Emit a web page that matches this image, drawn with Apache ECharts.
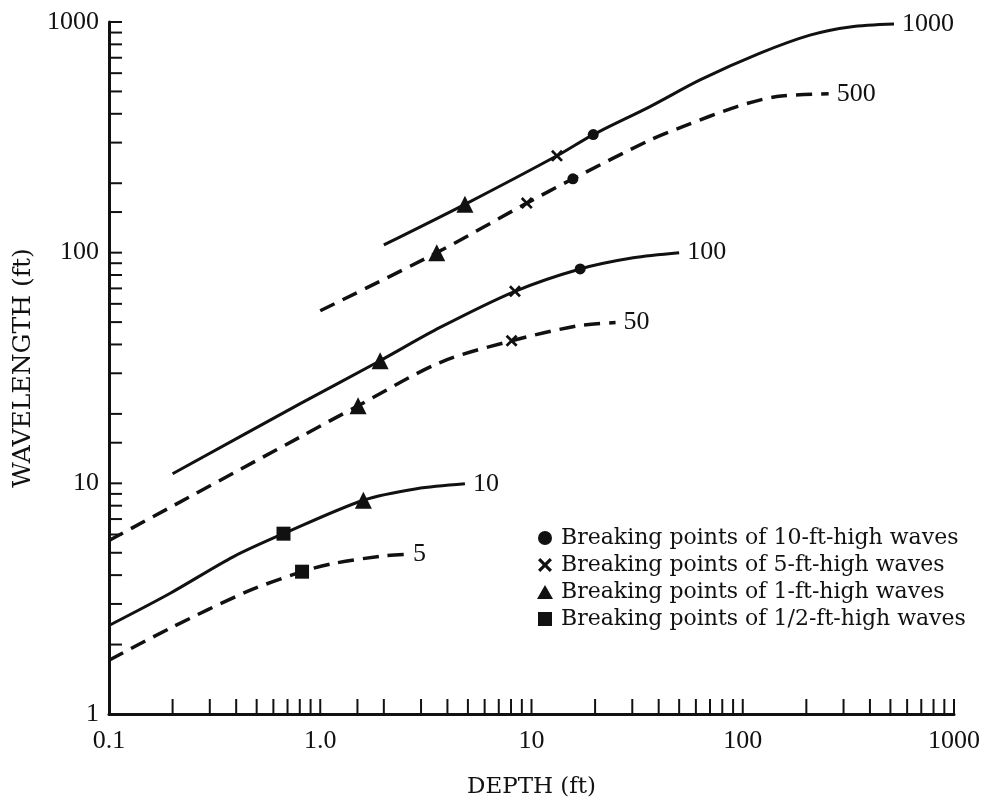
<!DOCTYPE html>
<html>
<head>
<meta charset="utf-8">
<script src="https://cdn.jsdelivr.net/npm/echarts@6/dist/echarts.min.js"></script>
<style>
  html, body { margin: 0; padding: 0; background: #fff; }
  #chart { width: 992px; height: 804px; }
</style>
</head>
<body>
<div id="chart"></div>
<script>
// axis labels and tick positions
const xTickLabels = ['0.1', '1.0', '10', '100', '1000'];
const yTickLabels = ['1', '10', '100', '1000'];
const xTicks = [0.2, 0.3, 0.4, 0.5, 0.6, 0.7, 0.8, 0.9, 1,
  1.5, 2, 3, 4, 5, 6, 7, 8, 9, 10,
  20, 30, 40, 50, 60, 70, 80, 90, 100,
  200, 300, 400, 500, 600, 700, 800, 900, 1000];
const yTicks = [2, 3, 4, 5, 6, 7, 8, 9, 10,
  15, 20, 30, 40, 50, 60, 70, 80, 90, 100,
  150, 200, 300, 400, 500, 600, 700, 800, 900, 1000];

// curves: [depth ft, wavelength ft]
const curve1000 = [[2.0, 108], [4.84, 162], [13.2, 263], [19.6, 325], [36.4, 430], [62.8, 561], [120, 731], [208, 877], [322, 952], [520, 980]];
const curve500 = [[1.0, 56], [3.56, 100], [9.5, 164], [15.7, 209], [36.4, 308], [52, 352], [94, 430], [145, 475], [255, 488]];
const curve100 = [[0.2, 11], [0.8, 22.1], [1.92, 34], [3.69, 47.4], [8.35, 68], [17, 85], [30.3, 95], [50, 100]];
const curve50 = [[0.1, 5.65], [0.8, 15.85], [1.51, 21.7], [3.69, 33.4], [8.05, 41.5], [16.4, 48.1], [25, 49.8]];
const curve10 = [[0.1, 2.42], [0.194, 3.33], [0.387, 4.8], [0.67, 6.05], [1.6, 8.45], [2.86, 9.48], [4.84, 9.96]];
const curve5 = [[0.1, 1.71], [0.194, 2.35], [0.449, 3.39], [0.82, 4.14], [1.15, 4.49], [1.99, 4.85], [2.52, 4.92]];

// breaking points
const breakers10ft = [[19.6, 325], [15.7, 209], [17, 85]];
const breakers5ft = [[13.2, 263], [9.5, 164], [8.35, 68], [8.05, 41.5]];
const breakers1ft = [[4.84, 162], [3.56, 100], [1.92, 34], [1.51, 21.7], [1.6, 8.45]];
const breakersHalfFt = [[0.67, 6.05], [0.82, 4.14]];

const legendNames = [
  'Breaking points of 10-ft-high waves',
  'Breaking points of 5-ft-high waves',
  'Breaking points of 1-ft-high waves',
  'Breaking points of 1/2-ft-high waves'
];

const ink = '#111';
const serif = 'Liberation Serif';
const crossPath = 'path://M1.6,0 L5,3.4 L8.4,0 L10,1.6 L6.6,5 L10,8.4 L8.4,10 L5,6.6 L1.6,10 L0,8.4 L3.4,5 L0,1.6 Z';
const squarePath = 'path://M0,0 L10,0 L10,10 L0,10 Z';

const chart = echarts.init(document.getElementById('chart'));

function curveSeries(name, data, dashed) {
  return {
    name: name,
    type: 'line',
    data: data,
    smooth: 0.3,
    showSymbol: false,
    silent: true,
    lineStyle: { color: ink, width: dashed ? 3.5 : 3, type: dashed ? [16, 9] : 'solid' },
    endLabel: {
      show: true,
      formatter: name,
      color: ink,
      fontFamily: serif,
      fontSize: 26,
      distance: 8
    },
    z: 3
  };
}

function markerSeries(name, data, symbol, size) {
  return {
    name: name,
    type: 'scatter',
    data: data,
    symbol: symbol,
    symbolSize: size,
    itemStyle: { color: ink, opacity: 1 },
    z: 4
  };
}

function tickRenderer(horizontal) {
  return function (params, api) {
    const p = api.coord([api.value(0), api.value(1)]);
    const end = horizontal ? [p[0] + 13, p[1]] : [p[0], p[1] - 15];
    return {
      type: 'line',
      shape: { x1: p[0], y1: p[1], x2: end[0], y2: end[1] },
      style: { stroke: ink, lineWidth: 2 }
    };
  };
}

const option = {
  backgroundColor: '#fff',
  animation: false,
  grid: { left: 109, right: 38, top: 22, bottom: 88 },
  legend: {
    data: [
      { name: legendNames[0], icon: 'circle', itemStyle: { color: ink, opacity: 1 } },
      { name: legendNames[1], icon: crossPath, itemStyle: { color: ink, opacity: 1 } },
      { name: legendNames[2], icon: 'triangle', itemStyle: { color: ink, opacity: 1 } },
      { name: legendNames[3], icon: squarePath, itemStyle: { color: ink, opacity: 1 } }
    ],
    orient: 'vertical',
    left: 532,
    top: 522,
    itemWidth: 16,
    itemHeight: 14,
    itemGap: 5,
    textStyle: { color: ink, fontFamily: 'DejaVu Serif', fontSize: 22, lineHeight: 20, padding: [0, 0, 0, 3] }
  },
  xAxis: {
    type: 'log',
    logBase: 10,
    min: 0.1,
    max: 1000,
    name: 'DEPTH (ft)',
    nameLocation: 'middle',
    nameGap: 62,
    nameTextStyle: { color: ink, fontFamily: 'DejaVu Serif', fontSize: 23 },
    axisLine: { lineStyle: { color: ink, width: 3 } },
    axisTick: { show: false },
    splitLine: { show: false },
    axisLabel: {
      color: ink,
      fontFamily: serif,
      fontSize: 26,
      margin: 14,
      formatter: function (v) {
        return xTickLabels[Math.round(Math.log10(v)) + 1];
      }
    }
  },
  yAxis: {
    type: 'log',
    logBase: 10,
    min: 1,
    max: 1000,
    name: 'WAVELENGTH (ft)',
    nameLocation: 'middle',
    nameGap: 72,
    nameTextStyle: { color: ink, fontFamily: 'DejaVu Serif', fontSize: 25 },
    axisLine: { show: true, lineStyle: { color: ink, width: 3 } },
    axisTick: { show: false },
    splitLine: { show: false },
    axisLabel: {
      color: ink,
      fontFamily: serif,
      fontSize: 26,
      margin: 10,
      formatter: function (v) {
        return yTickLabels[Math.round(Math.log10(v))];
      }
    }
  },
  series: [
    curveSeries('1000', curve1000, false),
    curveSeries('500', curve500, true),
    curveSeries('100', curve100, false),
    curveSeries('50', curve50, true),
    curveSeries('10', curve10, false),
    curveSeries('5', curve5, true),
    markerSeries(legendNames[0], breakers10ft, 'circle', 11),
    markerSeries(legendNames[1], breakers5ft, crossPath, 12),
    markerSeries(legendNames[2], breakers1ft, 'triangle', 17),
    markerSeries(legendNames[3], breakersHalfFt, 'rect', 14),
    {
      type: 'custom',
      silent: true,
      clip: false,
      renderItem: tickRenderer(false),
      data: xTicks.map(v => [v, 1]),
      z: 2
    },
    {
      type: 'custom',
      silent: true,
      clip: false,
      renderItem: tickRenderer(true),
      data: yTicks.map(v => [0.1, v]),
      z: 2
    }
  ]
};

chart.setOption(option);
</script>
</body>
</html>
